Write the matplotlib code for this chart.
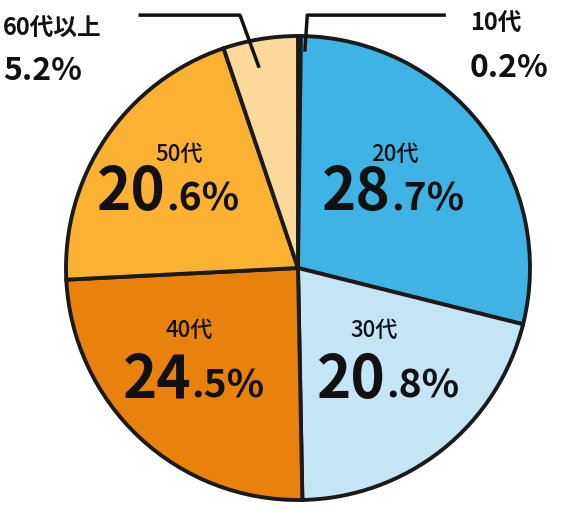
import matplotlib
matplotlib.use('Agg')
from matplotlib import pyplot as plt

plt.rcParams['font.family'] = ['Noto Sans CJK JP', 'DejaVu Sans']

groups  = ['10代', '20代', '30代', '40代', '50代', '60代以上']
shares  = [0.2, 28.7, 20.8, 24.5, 20.6, 5.2]
colors  = ['#1a86cf', '#3fb4e4', '#c3e5f6', '#e8820c', '#fbb232', '#fdd89b']

fig = plt.figure(figsize=(5.72, 5.11), dpi=100)
ax  = fig.add_axes([66/572, 11/511, 464/572, 464/511])
ax.pie(shares, colors=colors, startangle=90, counterclock=False, radius=1,
       wedgeprops=dict(edgecolor='#1a1a1a', linewidth=2.8))
ax.set_xlim(-1, 1)
ax.set_ylim(-1, 1)
ax.set_aspect('equal')
ax.axis('off')

# inside labels: (name pos, number pos)
inner = {1: ((0.42, 0.49), (0.44, 0.25)),
         2: ((0.33, -0.27), (0.42, -0.56)),
         3: ((-0.47, -0.27), (-0.42, -0.56)),
         4: ((-0.51, 0.49), (-0.53, 0.25))}
for i, ((nx, ny), (vx, vy)) in inner.items():
    ax.text(nx, ny, groups[i], ha='center', va='center', fontsize=16,
            fontweight='medium', color='#111')
    whole, frac = f'{shares[i]:.1f}'.split('.')
    ax.text(vx - 0.04, vy, whole, ha='right', va='baseline', fontsize=42,
            fontweight='bold', color='#111', clip_on=False)
    ax.text(vx - 0.04, vy, '.' + frac + '%', ha='left', va='baseline', fontsize=28,
            fontweight='bold', color='#111', clip_on=False)

# outer labels with leader lines
ax.plot([-0.68, -0.25, -0.17], [1.09, 1.09, 0.87], color='#111', lw=2.5, clip_on=False)
ax.text(-1.27, 1.03, groups[5], ha='left', va='center', fontsize=17,
        fontweight='bold', color='#111')
ax.text(-1.27, 0.85, f'{shares[5]}%', ha='left', va='center', fontsize=23,
        fontweight='bold', color='#111')
ax.plot([0.63, 0.04, 0.03], [1.09, 1.09, 0.94], color='#111', lw=2.5, clip_on=False)
ax.text(0.74, 1.05, groups[0], ha='left', va='center', fontsize=17,
        fontweight='bold', color='#111')
ax.text(0.74, 0.86, f'{shares[0]}%', ha='left', va='center', fontsize=23,
        fontweight='bold', color='#111')

fig.savefig('out.png')
